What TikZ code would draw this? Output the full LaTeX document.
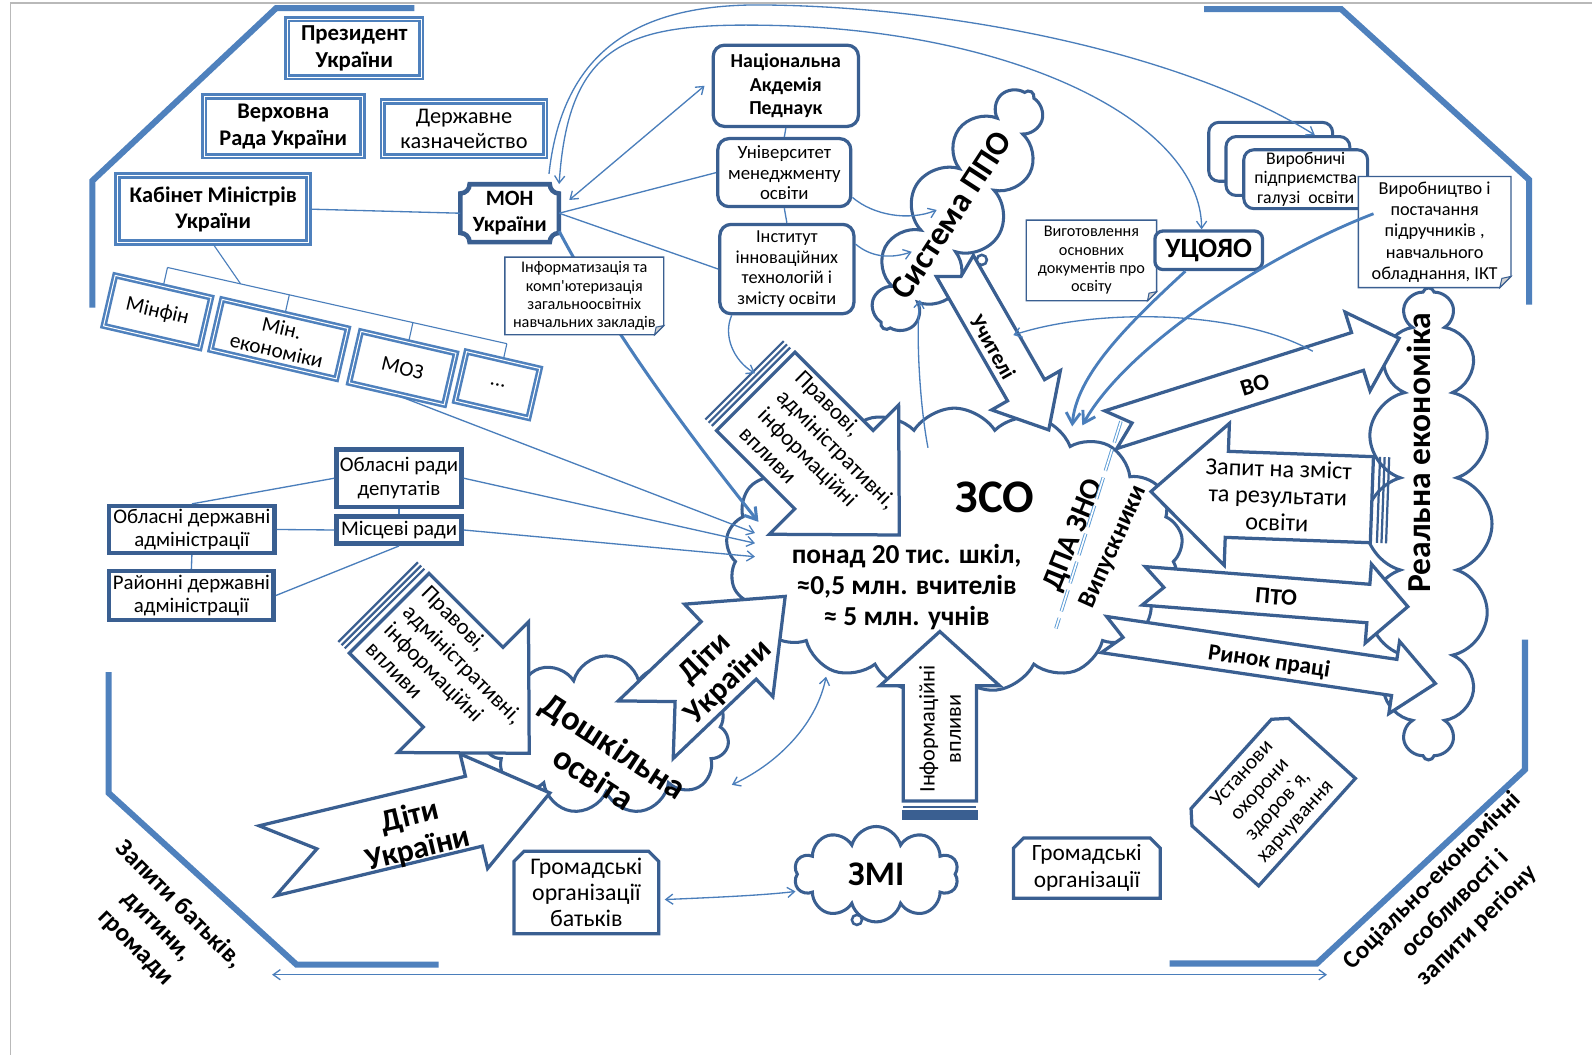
\documentclass[tikz,border=0pt]{standalone}
\usepackage{fontspec}
\setmainfont{Carlito}[Ligatures=TeXOff]
\usetikzlibrary{shapes.symbols,arrows.meta,calc}
\definecolor{ob}{RGB}{79,129,189}
\definecolor{bb}{RGB}{58,95,145}
\definecolor{lb}{RGB}{74,126,187}
\definecolor{sb}{RGB}{91,155,213}
\newcommand{\fz}[2]{\fontsize{#1}{#2}\selectfont}
\newcommand{\blkarrow}[7]{%
  \begin{scope}[shift={#1},rotate=#2]
    \draw[barrow] (0,-#4) -- (#5,-#4) -- (#5,-#6) -- (#3,0) -- (#5,#6) -- (#5,#4) -- (0,#4) -- (#7,0) -- cycle;
  \end{scope}}
\newcommand{\tailstripes}[3]{%
  \begin{scope}[shift={#1},rotate=#2]
    \foreach \s in {6.5,11,15.5} \draw[strp] (-\s,-#3) -- (-\s,#3);
  \end{scope}}
\begin{document}
\begin{tikzpicture}[x=1pt,y=-1pt,
  oct/.style={draw=ob,line width=6pt},
  dblbox/.style={draw=ob,line width=2.5pt,double=white,double distance=1pt,fill=white,align=center,inner sep=1pt},
  thkbox/.style={draw=bb,line width=4.5pt,fill=white,align=center,inner sep=1pt},
  rndbox/.style={draw=bb,line width=3.2pt,fill=white,rounded corners=11pt,align=center,inner sep=1pt},
  wbox/.style={fill=white,align=center,inner sep=1pt},
  noteline/.style={draw=bb,line width=1.4pt},
  chline/.style={draw=bb,line width=3.2pt},
  cld/.style={cloud,draw=bb,line width=3pt,fill=white,cloud ignores aspect,inner sep=0pt},
  barrow/.style={draw=bb,line width=3.2pt,fill=white,line join=miter},
  strp/.style={draw=bb,line width=2.2pt},
  conn/.style={draw=lb,line width=1.3pt},
  arw/.style={-{Straight Barb[length=7pt,width=10pt]}},
  arw2/.style={{Straight Barb[length=7pt,width=10pt]}-{Straight Barb[length=7pt,width=10pt]}},
  arwT/.style={-{Straight Barb[length=11pt,width=14pt]}},
]
\useasboundingbox (0,0) rectangle (1568,1039);
\fill[white] (0,0) rectangle (1568,1039);
\draw[gray!55,line width=1.2pt] (10,1039) -- (10,3) -- (1568,3);

% octagon frame
\draw[oct] (91,303) -- (91,178) -- (272,8) -- (408,8);
\draw[oct] (1186,9) -- (1321,9) -- (1506,177) -- (1506,300);
\draw[oct] (1502,630) -- (1502,758) -- (1297,949) -- (1152,949);
\draw[oct] (107,662) -- (107,781) -- (292,950) -- (432,950);

% corner texts and bottom arrow
\node[rotate=-45,align=center,font=\bfseries\fz{25}{30}] (tq) at (155,912) {Запити батьків,\\дитини,\\громади};
\node[rotate=45,align=center,font=\bfseries\fz{24.5}{31}] (ts) at (1433,890) {Соціально-економічні\\особливості і\\запити регіону};
\coordinate (bl) at (268,960);
\coordinate (br) at (1307,960);
\draw[conn,arw2] (bl) -- (br);

% clouds
\node[cld,cloud puffs=16,minimum width=465pt,minimum height=125pt,rotate=90] (re) at (1407,516) {};
\node[cld,cloud puffs=12,minimum width=275pt,minimum height=95pt,rotate=58] (ppo) at (943,207) {};
\node[cld,cloud puffs=17,cloud puff arc=115,minimum width=450pt,minimum height=280pt] (zso) at (940,542) {};
\node[cld,cloud puffs=11,minimum width=242pt,minimum height=156pt] (dosh) at (597,724) {};
\node[cld,cloud puffs=10,minimum width=162pt,minimum height=94pt,font=\bfseries\fz{34}{36}] (zmi) at (863,861) {ЗМІ};

% top-left boxes
\node[dblbox,minimum width=132pt,minimum height=57pt,font=\bfseries\fz{22.5}{26.5}] (pres) at (349,47.5) {Президент\\України};
\node[dblbox,minimum width=156pt,minimum height=59pt,font=\bfseries\fz{22}{26}] (vr) at (279,124.5) {Верховна\\Рада України};
\node[dblbox,minimum width=160pt,minimum height=54pt,font=\fz{22}{25}] (dk) at (457,127) {Державне\\казначейство};
\node[dblbox,line width=3pt,minimum width=188pt,minimum height=66pt,font=\bfseries\fz{22}{26}] (km) at (210,206) {Кабінет Міністрів\\України};

% ministries
\node[dblbox,rotate=-13,minimum width=97pt,minimum height=51pt,font=\fz{21}{24}] (mf) at (155,307) {Мінфін};
\node[dblbox,rotate=-13,minimum width=127pt,minimum height=51pt,font=\fz{21}{23}] (me) at (275,334) {Мін.\\економіки};
\node[dblbox,rotate=-13,minimum width=96pt,minimum height=52pt,font=\fz{21}{24}] (moz) at (396.5,362.5) {МОЗ};
\node[dblbox,rotate=-13,minimum width=74pt,minimum height=50pt,font=\fz{21}{24}] (dts) at (490,379) {...};
\coordinate (bA) at (172,265);
\coordinate (bB) at (497,338);
\coordinate (p1) at ($(bA)!(mf.north)!(bB)$);
\coordinate (p4) at ($(bA)!(dts.north)!(bB)$);
\draw[conn,line width=1.1pt] (p1) -- (p4);
\foreach \n in {mf,me,moz,dts} \draw[conn,line width=1.1pt] (\n.north) -- ($(bA)!(\n.north)!(bB)$);
\coordinate (kb) at ($(bA)!0.2!(bB)$);
\draw[conn,line width=1.1pt] (km.south) -- (kb);

% MON
\draw[draw=bb,line width=4.5pt,fill=white] (462.5,181.5) -- (541.5,181.5) .. controls (541.5,186.5) and (545.5,190.5) .. (550.5,190.5) -- (550.5,229.5) .. controls (545.5,229.5) and (541.5,233.5) .. (541.5,238.5) -- (462.5,238.5) .. controls (462.5,233.5) and (458.5,229.5) .. (453.5,229.5) -- (453.5,190.5) .. controls (458.5,190.5) and (462.5,186.5) .. (462.5,181.5) -- cycle;
\node[align=center,inner sep=0pt,minimum width=97pt,minimum height=57pt,font=\bfseries\fz{21.5}{25}] (mon) at (502,210) {МОН\\України};
\draw[conn] (km.east) -- (mon.west);
\coordinate (z1) at (747,514);
\draw[conn,line width=3pt,arwT] (mon.-20) .. controls (605,330) and (680,430) .. (z1);

% info note
\node[wbox,minimum width=156pt,minimum height=76pt,font=\fz{16}{18}] (inf) at (575.5,291.5) {Інформатизація та\\комп'ютеризація\\загальноосвітніх\\навчальних закладів};
\draw[noteline] (inf.north west) -- (inf.north east) -- ([yshift=9pt]inf.south east) -- ([xshift=-9pt]inf.south east) -- (inf.south west) -- cycle;
\draw[noteline,fill=gray!35,line width=1pt] ([yshift=9pt]inf.south east) -- ([xshift=-9pt]inf.south east) -- ([xshift=-7.5pt,yshift=7.5pt]inf.south east) -- cycle;

% regional boxes
\node[thkbox,minimum width=123pt,minimum height=57pt,font=\fz{20.5}{24}] (obr) at (393,471) {Обласні ради\\депутатів};
\node[thkbox,minimum width=123pt,minimum height=27pt,font=\fz{20.5}{24}] (mr) at (393,522) {Місцеві ради};
\node[thkbox,minimum width=163pt,minimum height=46pt,font=\fz{20.5}{22.5}] (oda) at (189,521.5) {Обласні державні\\адміністрації};
\node[thkbox,minimum width=162pt,minimum height=48pt,font=\fz{20.5}{23}] (rda) at (188.5,586.5) {Районні державні\\адміністрації};
\draw[conn] (obr.west) -- (oda.north);
\draw[conn] (oda.east) -- (mr.west);
\draw[conn] (obr.south) -- (mr.north);
\draw[conn] (oda.south) -- (rda.north);
\draw[conn] (mr.south) -- (rda.east);

% academy group
\node[rndbox,minimum width=143pt,minimum height=80pt,font=\bfseries\fz{19.5}{23}] (napn) at (774,84.5) {Національна\\Акдемія\\Педнаук};
\node[rndbox,minimum width=131pt,minimum height=67pt,font=\fz{18.5}{20.5}] (ume) at (772.5,170) {Університет\\менеджменту\\освіти};
\node[rndbox,minimum width=132pt,minimum height=88pt,font=\fz{18}{20.5}] (iit) at (775,265) {Інститут\\інноваційних\\технологій і\\змісту освіти};
\draw[conn] (napn.south) -- (ume.north);
\draw[conn] (ume.south) -- (iit.north);
\draw[conn] (mon.east) -- (ume.west);
\draw[conn] (mon.east) -- (iit.west);
\draw[conn,arw2] ([xshift=10pt]mon.15) -- ([xshift=-7pt]napn.west);

% right top boxes
\node[wbox,minimum width=128pt,minimum height=79pt,font=\fz{16}{18}] (vyg) at (1075,256.5) {Виготовлення\\основних\\документів про\\освіту};
\draw[noteline] (vyg.north west) -- (vyg.north east) -- ([yshift=9pt]vyg.south east) -- ([xshift=-9pt]vyg.south east) -- (vyg.south west) -- cycle;
\draw[noteline,fill=gray!35,line width=1pt] ([yshift=9pt]vyg.south east) -- ([xshift=-9pt]vyg.south east) -- ([xshift=-7.5pt,yshift=7.5pt]vyg.south east) -- cycle;
\node[rndbox,rounded corners=8pt,minimum width=106pt,minimum height=38pt,font=\bfseries\fz{27.5}{30}] (uc) at (1190.5,246.5) {УЦОЯО};
\node[draw=bb,line width=3pt,fill=white,rounded corners=10pt,minimum width=122pt,minimum height=58pt] (vp3) at (1251.5,149.5) {};
\node[draw=bb,line width=3pt,fill=white,rounded corners=10pt,minimum width=122pt,minimum height=58pt] (vp2) at (1268.5,163.5) {};
\node[rndbox,line width=3pt,rounded corners=10pt,minimum width=122pt,minimum height=58pt,inner sep=0pt,font=\fz{17.5}{19.3}] (vp) at (1286,176.5) {Виробничі\\підприємства\\галузі~ освіти};
\node[wbox,minimum width=150pt,minimum height=109pt,font=\fz{18}{21}] (vpost) at (1413,228.5) {Виробництво і\\постачання\\підручників ,\\навчального\\обладнання, ІКТ};
\draw[noteline] (vpost.north west) -- (vpost.north east) -- ([yshift=11pt]vpost.south east) -- ([xshift=-11pt]vpost.south east) -- (vpost.south west) -- cycle;
\draw[noteline,fill=gray!35,line width=1pt] ([yshift=11pt]vpost.south east) -- ([xshift=-11pt]vpost.south east) -- ([xshift=-9pt,yshift=9pt]vpost.south east) -- cycle;

% bottom boxes
\node[wbox,minimum width=142pt,minimum height=81pt,font=\fz{23.5}{26}] (gob) at (577.5,879) {Громадські\\організації\\батьків};
\draw[chline] ([yshift=-10pt]gob.north west) -- ([xshift=10pt]gob.north west) -- ([xshift=-10pt]gob.north east) -- ([yshift=-10pt]gob.north east) -- (gob.south east) -- (gob.south west) -- cycle;
\node[wbox,minimum width=144pt,minimum height=59pt,font=\fz{23}{27}] (go) at (1070.5,855) {Громадські\\організації};
\draw[chline] ([yshift=-10pt]go.north west) -- ([xshift=10pt]go.north west) -- ([xshift=-10pt]go.north east) -- ([yshift=-10pt]go.north east) -- (go.south east) -- (go.south west) -- cycle;
\node[wbox,rotate=48,minimum width=142pt,minimum height=100pt,font=\fz{21}{23.5}] (ust) at (1250,786) {Установи\\охорони\\здоров`я,\\харчування};
\draw[chline] ($(ust.north west)!12pt!(ust.south west)$) -- ($(ust.north west)!12pt!(ust.north east)$) -- ($(ust.north east)!12pt!(ust.north west)$) -- ($(ust.north east)!12pt!(ust.south east)$) -- (ust.south east) -- (ust.south west) -- cycle;

% cloud texts
\node[font=\bfseries\fz{46}{50}] (tzso) at (980,490) {ЗСО};
\node[align=center,font=\bfseries\fz{27}{30.5}] (tstat) at (893,578) {понад 20 тис. шкіл,\\≈0,5 млн. вчителів\\≈ 5 млн. учнів};
\node[rotate=68,font=\bfseries\fz{29.5}{32}] (tdpa) at (1058,527) {ДПА ЗНО};
\node[rotate=66,font=\bfseries\fz{25}{28}] (tvyp) at (1097,539) {Випускники};
\draw[draw=sb,line width=0.9pt,double=white,double distance=1.6pt,dash pattern=on 22pt off 7pt] (1104,415) -- (1040,619);
\node[rotate=-33,align=center,font=\bfseries\fz{34}{37}] (tdosh) at (595,750) {Дошкільна\\освіта};
\node[rotate=90,font=\bfseries\fz{33}{36}] (tre) at (1397,446) {Реальна економіка};

% block arrows
\blkarrow{(940.5,262)}{-60.2}{186}{21}{141}{39}{12}
\blkarrow{(744.35,385.5)}{-45}{200}{54.6}{109}{90}{0}
\tailstripes{(744.35,385.5)}{-45}{54.6}
\blkarrow{(383.35,604)}{-45}{195}{55.5}{103}{91}{0}
\tailstripes{(383.35,604)}{-45}{55.5}
\blkarrow{(263.5,847.75)}{13.5}{286}{35.4}{209}{58}{50}
\blkarrow{(636,718.65)}{43.7}{190}{39.2}{113}{63}{40}
\blkarrow{(925.65,789)}{90}{167}{36}{113.5}{59}{0}
\draw[bb,line width=2pt] (889.6,794.5) -- (961.7,794.5);
\fill[bb] (888,798) rectangle (963.3,808);
\blkarrow{(1094,423.25)}{17.6}{298}{19.5}{255}{40.7}{22}
\blkarrow{(1351.2,492.15)}{177.9}{217.75}{42.4}{143}{70}{0}
\tailstripes{(1351.2,492.15)}{177.9}{42.4}
\blkarrow{(1126.4,577)}{-4.5}{261}{19}{222}{39}{20}
\blkarrow{(1087.3,625)}{-8.4}{330}{18}{289}{36}{19}

% arrow texts
\node[rotate=57,font=\bfseries\fz{33}{36}] (tppo) at (937,212) {Система ППО};
\node[rotate=-60.2,font=\bfseries\fz{21.5}{24}] (tuch) at (978,341.5) {Учителі};
\node[rotate=-45,align=left,font=\fz{22.5}{26}] (tpr1) at (815,451) {Правові,\\адміністративні,\\інформаційні\\впливи};
\node[rotate=-45,align=left,font=\fz{22.5}{26}] (tpr2) at (447,663) {Правові,\\адміністративні,\\інформаційні\\впливи};
\node[rotate=13.5,align=center,font=\bfseries\fz{31}{33}] (tdt1) at (408,821) {Діти\\України};
\node[rotate=43.7,align=center,font=\bfseries\fz{31}{33}] (tdt2) at (706,660) {Діти\\України};
\node[rotate=90,align=center,font=\fz{22}{26}] (tinf) at (926,718) {Інформаційні\\впливи};
\node[rotate=17.6,font=\bfseries\fz{23}{26}] (tvo) at (1236,379) {ВО};
\node[rotate=-2,align=center,font=\fz{24}{26.5}] (tzap) at (1258.5,488) {Запит на зміст\\та результати\\освіти};
\node[rotate=-4.5,font=\bfseries\fz{23}{26}] (tpto) at (1257,588) {ПТО};
\node[rotate=-8.4,font=\bfseries\fz{23}{26}] (trp) at (1250,652) {Ринок праці};

% bubbles
\draw[bb,line width=2.5pt,fill=white] (967,256) circle[radius=5pt];
\draw[bb,line width=2.5pt,fill=white] (844,906) circle[radius=5pt];

% arrow connectors
\coordinate (z2) at (743.6,525);
\coordinate (z3) at (743.6,535);
\coordinate (z4) at (743.6,548.3);
\draw[conn,arw] (moz.south) -- (z2);
\draw[conn,arw] (obr.east) -- (z3);
\draw[conn,arw] (mr.east) -- (z4);
\coordinate (pp1) at (922.6,206.8);
\coordinate (pp2) at (898,248);
\coordinate (pp3) at (906,295.5);
\coordinate (zt) at (914,441);
\coordinate (pr1) at (743.6,367.7);
\draw[conn,arw] (ume.-20) .. controls (860,212) and (895,218) .. (pp1);
\draw[conn,arw] (iit.20) .. controls (860,255) and (880,254) .. (pp2);
\draw[conn,arw] (iit.-140) .. controls (712,330) and (722,355) .. (pr1);
\draw[conn,arw] (zt) .. controls (906,400) and (902,330) .. (pp3);
\draw[conn,arw] ([xshift=-10pt,yshift=10pt]mon.north east) .. controls (555,40) and (640,2) .. (760,5) .. controls (950,8) and (1170,55) .. ([xshift=-36pt]vp2.north east);
\draw[conn,arw2] (mon.north east) .. controls (560,40) and (620,22) .. (760,25) .. controls (1000,30) and (1183,120) .. ([xshift=-7pt]uc.north);
\coordinate (zu1) at (1056,420);
\coordinate (zu2) at (1066,419);
\draw[conn,line width=2.8pt,arwT] ([xshift=-23pt]uc.south) .. controls (1110,320) and (1060,370) .. (zu1);
\draw[conn,line width=2.8pt,arwT] ([xshift=15pt,yshift=18pt]vpost.west) .. controls (1250,250) and (1110,340) .. (zu2);
\coordinate (rea) at (1293,346);
\coordinate (uch) at (998,330);
\draw[conn,arw] (rea) .. controls (1220,305) and (1080,303) .. (uch);
\coordinate (d1) at (720.8,773);
\coordinate (d2) at (813.6,666.5);
\draw[conn,arw2] (d1) .. controls (770,750) and (805,710) .. (d2);
\draw[conn,arw2] ([xshift=6pt,yshift=-7pt]gob.east) .. controls (700,884) and (750,882) .. ([yshift=-17pt]zmi.west);
\end{tikzpicture}
\end{document}
